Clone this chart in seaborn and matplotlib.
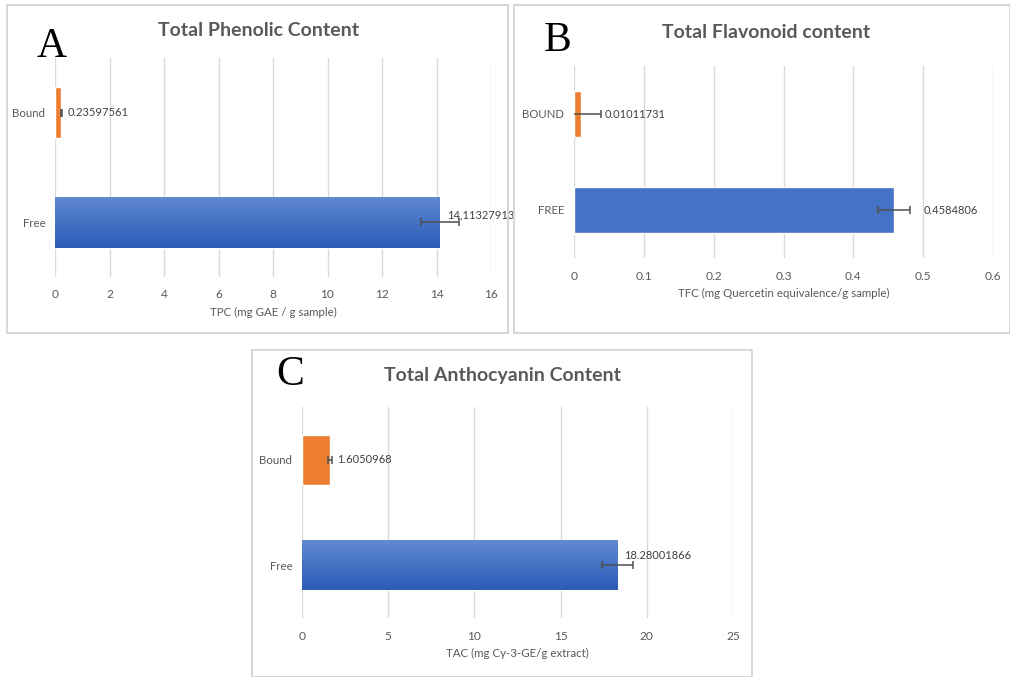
import matplotlib
matplotlib.use("Agg")
import matplotlib.pyplot as plt
import matplotlib.patches as mpatches
import numpy as np
import pandas as pd
import seaborn as sns

# data
cats_a = ["Bound", "Free"]
tpc = [0.23597561, 14.11327913]
tpc_err = [0.03, 0.70]
tpc_labels = ["0.23597561", "14,11327913"]

cats_b = ["BOUND", "FREE"]
tfc = [0.01011731, 0.4584806]
tfc_err = [0.028, 0.0225]
tfc_labels = ["0.01011731", "0.4584806"]

cats_c = ["Bound", "Free"]
tac = [1.6050968, 18.28001866]
tac_err = [0.12, 0.90]
tac_labels = ["1.6050968", "18.28001866"]

ORANGE = "#ED7D31"
BLUE = "#4472C4"
GREY = "#595959"
GRID = "#D9D9D9"

sns.set_theme(style="white")
plt.rcParams["font.family"] = ["Lato", "DejaVu Sans"]

W, H = 1010, 677
fig = plt.figure(figsize=(W / 100, H / 100), dpi=100)


def px_axes(x0, y0, x1, y1):
    return fig.add_axes([x0 / W, 1 - y1 / H, (x1 - x0) / W, (y1 - y0) / H])


def frame(x0, y0, x1, y1):
    fig.add_artist(mpatches.Rectangle((x0 / W, 1 - y1 / H), (x1 - x0) / W, (y1 - y0) / H,
                                      transform=fig.transFigure, fill=False,
                                      edgecolor="#D0D0D0", lw=1.2))


def gradient(ax, patch):
    x0, y0 = patch.get_x(), patch.get_y()
    w, h = patch.get_width(), patch.get_height()
    grad = np.linspace(0, 1, 64).reshape(-1, 1)
    cmap = matplotlib.colors.LinearSegmentedColormap.from_list(
        "g", ["#628AD2", "#4472C4", "#2C5CB8"])
    im = ax.imshow(grad, extent=(x0, x0 + w, y0 + h, y0), aspect="auto", cmap=cmap,
                   origin="upper", zorder=patch.get_zorder() + 0.1)
    im.set_clip_path(patch)


def panel(ax, cats, vals, errs, labels, xmax, step, xlabel, offsets, grad):
    df = pd.DataFrame({"cat": cats, "val": vals})
    sns.barplot(data=df, x="val", y="cat", hue="cat", order=cats,
                palette={cats[0]: ORANGE, cats[1]: BLUE}, width=0.47,
                saturation=1, orient="h", legend=False, ax=ax, zorder=3)
    if grad:
        gradient(ax, ax.patches[1])
    ax.errorbar(vals, range(len(cats)), xerr=errs, fmt="none", ecolor="#505050",
                elinewidth=1.1, capsize=3, capthick=1.1, zorder=5)
    for i, (v, lab) in enumerate(zip(vals, labels)):
        dx, dy = offsets[i]
        ax.annotate(lab, xy=(v, i), xytext=(dx, dy), textcoords="offset points",
                    ha="left", va="center", fontsize=8, color="#404040", zorder=6)
    ax.set_xlim(0, xmax)
    ax.set_ylim(1.5, -0.5)
    ticks = np.arange(0, xmax + step / 2, step)
    ax.set_xticks(ticks)
    ax.set_xticklabels([f"{t:g}" for t in ticks])
    ax.grid(axis="x", color=GRID, lw=1, zorder=0)
    ax.grid(axis="y", visible=False)
    for s in ax.spines.values():
        s.set_visible(False)
    ax.tick_params(axis="both", length=0, labelcolor=GREY)
    ax.tick_params(axis="x", pad=9, labelsize=8.6)
    ax.tick_params(axis="y", pad=7, labelsize=8.2)
    ax.set_ylabel("")
    ax.set_xlabel(xlabel, fontsize=8.3, color=GREY, labelpad=5)


def heading(x, y, text):
    fig.text(x / W, 1 - y / H, text, fontsize=14, fontweight="bold",
             color=GREY, ha="center", va="center")


def letter(x, y, text):
    fig.text(x / W, 1 - y / H, text, family="Liberation Serif", fontsize=30,
             ha="center", va="center", color="black")


# panel A
frame(7, 5, 508, 333)
ax_a = px_axes(55, 58, 491, 277)
panel(ax_a, cats_a, tpc, tpc_err, tpc_labels, 16, 2,
      "TPC (mg GAE / g sample)", [(4.5, 0), (5.4, 5)], True)
heading(259, 30, "Total Phenolic Content")
letter(52, 47, "A")

# panel B
frame(514, 5, 1010, 333)
ax_b = px_axes(574, 66, 993, 258)
panel(ax_b, cats_b, tfc, tfc_err, tfc_labels, 0.6, 0.1,
      "TFC (mg Quercetin equivalence/g sample)", [(17, 0), (21, 0)], False)
heading(766, 33, "Total Flavonoid content")
letter(558, 41, "B")

# panel C
frame(252, 350, 752, 677)
ax_c = px_axes(302, 407, 733, 618)
panel(ax_c, cats_c, tac, tac_err, tac_labels, 25, 5,
      "TAC (mg Cy-3-GE/g extract)", [(5, 0), (4.7, 7)], True)
heading(502, 376, "Total Anthocyanin Content")
letter(290, 375, "C")

fig.savefig("out.png", dpi=100, facecolor="white")
